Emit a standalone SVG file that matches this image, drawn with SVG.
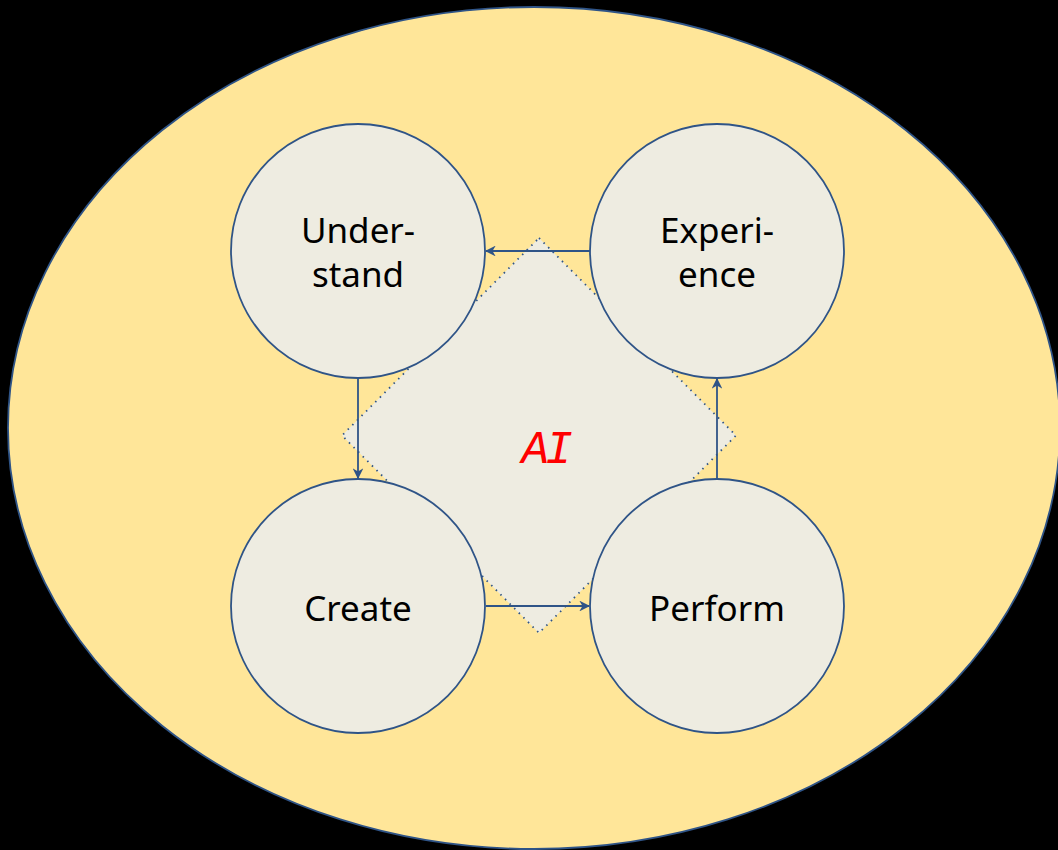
<svg xmlns="http://www.w3.org/2000/svg" width="1058" height="850" viewBox="0 0 1058 850">
<defs>
<style>
.node circle{fill:#EEECE1;stroke:#2F5487;stroke-width:1.8}
.lbl{font-family:"Noto Sans","Open Sans",sans-serif;font-size:35px;fill:#000;text-anchor:middle}
.conn line{stroke:#2F5487;stroke-width:1.8;fill:none;marker-end:url(#ah)}
</style>
<marker id="ah" viewBox="0 0 10 10" refX="9" refY="5" markerWidth="6" markerHeight="6" orient="auto" markerUnits="strokeWidth">
<path d="M0,0 L10,5 L0,10 L3,5 Z" fill="#2F5487"/>
</marker>
</defs>
<rect width="1058" height="850" fill="#000"/>
<g id="outer">
<ellipse cx="534" cy="428" rx="526" ry="421" fill="#FFE699" stroke="#2F5487" stroke-width="1.8"/>
</g>
<g id="ai">
<polygon points="539,238 736,435.5 539,633 342,435.5" fill="#EEECE1" stroke="#2F5487" stroke-width="1.8" stroke-dasharray="1.5 5"/>
<text x="545" y="463" font-family="'Liberation Mono',monospace" font-style="italic" font-size="46" fill="#FF0000" text-anchor="middle" letter-spacing="-4">AI</text>
</g>
<g id="conn" class="conn">
<line x1="590" y1="251" x2="486" y2="251"/>
<line x1="358" y1="378" x2="358" y2="478"/>
<line x1="486" y1="606" x2="589" y2="606"/>
<line x1="717" y1="479" x2="717" y2="379"/>
</g>
<g id="understand" class="node">
<circle cx="358" cy="251" r="127"/>
<text class="lbl" x="358" y="243">Under-</text>
<text class="lbl" x="358" y="287">stand</text>
</g>
<g id="experience" class="node">
<circle cx="717" cy="251" r="127"/>
<text class="lbl" x="717" y="243">Experi-</text>
<text class="lbl" x="717" y="287">ence</text>
</g>
<g id="create" class="node">
<circle cx="358" cy="606" r="127"/>
<text class="lbl" x="358" y="621">Create</text>
</g>
<g id="perform" class="node">
<circle cx="717" cy="606" r="127"/>
<text class="lbl" x="717" y="621">Perform</text>
</g>
</svg>
